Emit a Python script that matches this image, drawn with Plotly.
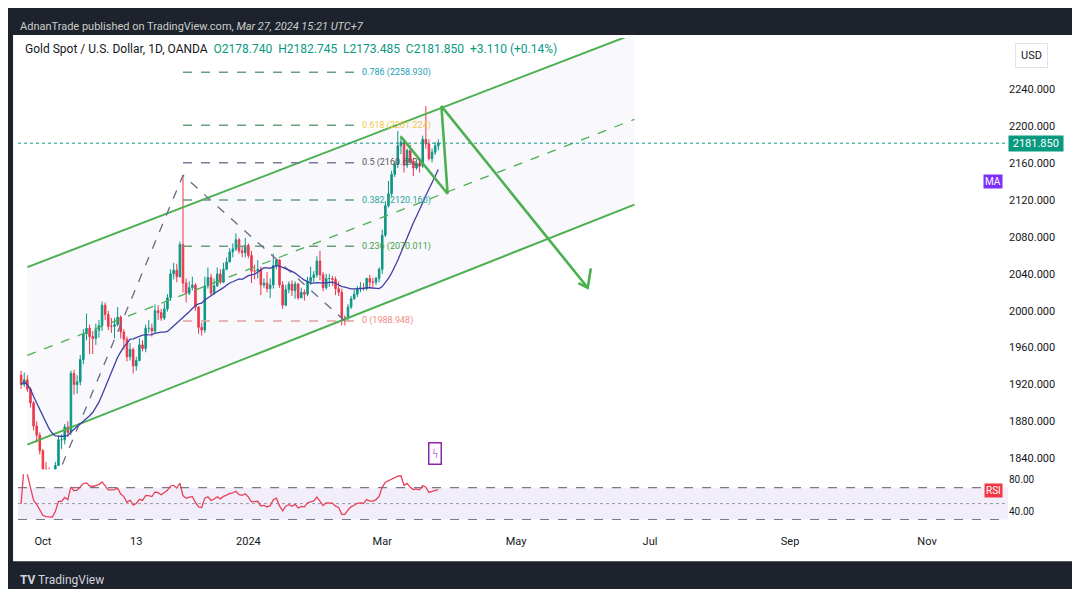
import pandas as pd
import plotly.graph_objects as go
from plotly.subplots import make_subplots

# daily bars, Sep 21 2023 .. Mar 27 2024 (weekdays)
dates = pd.bdate_range("2023-09-21", "2024-03-27")
closes = [1920, 1925,
          1915, 1900, 1875, 1865, 1848,
          1828, 1822, 1820, 1820, 1832,
          1860, 1860, 1874, 1868, 1932,
          1920, 1923, 1947, 1975, 1981,
          1972, 1970, 1979, 1984, 2006,
          1996, 1983, 1983, 1985, 1993,
          1977, 1969, 1950, 1958, 1940,
          1946, 1963, 1959, 1981, 1981,
          1978, 2000, 1998, 1992, 2002,
          2014, 2040, 2044, 2037, 2072,
          2030, 2019, 2025, 2028, 2004,
          1982, 1979, 2027, 2036, 2019,
          2027, 2040, 2031, 2045, 2053,
          2064, 2067, 2077, 2065, 2063,
          2071, 2060, 2043, 2043, 2045,
          2028, 2030, 2024, 2028, 2049,
          2055, 2028, 2006, 2023, 2029,
          2022, 2029, 2014, 2020, 2018,
          2032, 2036, 2039, 2054, 2039,
          2025, 2035, 2035, 2034, 2024,
          2020, 1992, 1992, 2004, 2013,
          2018, 2024, 2025, 2024, 2035,
          2031, 2031, 2035, 2045, 2082,
          2114, 2127, 2148, 2159, 2179,
          2183, 2158, 2174, 2162, 2155,
          2160, 2157, 2186, 2181, 2165,
          2172, 2179, 2182]
highs = [1935, 1933, 1930, 1917, 1902, 1880, 1868, 1850, 1836, 1830, 1825, 1836,
         1865, 1866, 1877, 1880, 1935, 1936, 1930, 1952, 1980, 1997, 1985, 1978, 1986, 1990, 2010,
         2009, 2000, 1992, 1992, 2004, 1995, 1980, 1972, 1965, 1960, 1950, 1970, 1968, 1985, 1990,
         1986, 2007, 2006, 2002, 2008, 2018, 2045, 2052, 2051, 2075, 2147, 2035, 2032, 2037, 2030,
         2005, 1987, 2037, 2047, 2040, 2035, 2047, 2045, 2052, 2058, 2068, 2073, 2084, 2079, 2070,
         2079, 2073, 2065, 2050, 2055, 2048, 2035, 2042, 2035, 2062, 2056, 2056, 2032, 2028, 2032,
         2033, 2032, 2030, 2025, 2023, 2037, 2048, 2043, 2059, 2065, 2042, 2040, 2040, 2038, 2037,
         2032, 2024, 1995, 2007, 2016, 2023, 2027, 2031, 2030, 2036, 2039, 2036, 2037, 2047, 2088,
         2119, 2141, 2152, 2162, 2195, 2190, 2185, 2176, 2180, 2166, 2163, 2162, 2190, 2222, 2186,
         2176, 2183, 2186]
lows = [1915, 1917, 1912, 1895, 1870, 1857, 1844, 1810, 1816, 1813, 1816, 1817,
        1834, 1850, 1855, 1863, 1865, 1909, 1910, 1919, 1942, 1968, 1953, 1953, 1963, 1971, 1978,
        1990, 1979, 1976, 1970, 1983, 1970, 1958, 1945, 1946, 1932, 1935, 1945, 1956, 1955, 1976,
        1972, 1975, 1990, 1989, 1990, 1999, 2011, 2034, 2031, 2036, 2020, 2009, 2017, 2022, 2000,
        1975, 1973, 1976, 2024, 2016, 2017, 2026, 2029, 2030, 2044, 2053, 2058, 2065, 2062, 2058,
        2058, 2057, 2030, 2034, 2035, 2017, 2025, 2020, 2014, 2024, 2045, 2025, 2002, 2005, 2019,
        2016, 2013, 2012, 2015, 2011, 2016, 2028, 2031, 2036, 2033, 2021, 2023, 2026, 2027, 2017,
        2016, 1984, 1984, 1989, 2002, 2012, 2015, 2020, 2022, 2022, 2024, 2026, 2028, 2031, 2040,
        2080, 2112, 2124, 2145, 2155, 2170, 2150, 2155, 2160, 2146, 2153, 2150, 2155, 2176, 2163,
        2161, 2169, 2174]
first_open = 1930
last_price = 2181.85

# fibonacci retracement
fib_levels = ["0", "0.236", "0.382", "0.5", "0.618", "0.786"]
fib_prices = [1988.948, 2070.011, 2120.160, 2160.692, 2201.224, 2258.930]
fib_colors = ["#f28b82", "#43a047", "#26a69a", "#555555", "#f2c94c", "#1ba0b8"]

# drawings (date, price)
channel_dates = ["2023-09-25", "2024-06-24"]
upper_ch = [2047.3, 2300.7]
lower_ch = [1854.7, 2115.1]
mid_ch = [1951.6, 2207.8]
zig_dates = ["2023-10-06", "2023-12-04", "2024-02-14"]
zig_prices = [1815, 2147, 1989]
path_dates = ["2024-03-11", "2024-04-01", "2024-03-28", "2024-06-03"]
path_prices = [2189, 2127, 2222, 2025]
head_dates = ["2024-05-29", "2024-06-03", "2024-06-04"]
head_prices = [2030, 2025, 2046]

x_ticks = ["2023-10-02", "2023-11-13", "2024-01-02", "2024-03-01", "2024-05-01",
           "2024-07-01", "2024-09-02", "2024-11-01"]
x_labels = ["Oct", "13", "2024", "Mar", "May", "Jul", "Sep", "Nov"]

close_s = pd.Series(closes, index=dates)
opens = [first_open] + closes[:-1]
ma = close_s.rolling(20, min_periods=1).mean()
delta = close_s.diff()
gain = delta.clip(lower=0).ewm(alpha=1 / 14, adjust=False).mean()
loss = (-delta.clip(upper=0)).ewm(alpha=1 / 14, adjust=False).mean()
rsi = 100 - 100 / (1 + gain / loss.replace(0, 1e-9))
rsi.iloc[0] = 50

fig = make_subplots(rows=2, cols=1, shared_xaxes=True, vertical_spacing=0.01,
                    row_heights=[0.88, 0.12])

green = "#4caf50"
x_start, x_end = "2023-09-20", "2024-12-09"
# channel fill
fig.add_trace(go.Scatter(x=channel_dates, y=lower_ch, mode="lines", line=dict(color=green, width=2),
                         hoverinfo="skip"), row=1, col=1)
fig.add_trace(go.Scatter(x=channel_dates, y=upper_ch, mode="lines", line=dict(color=green, width=2),
                         fill="tonexty", fillcolor="rgba(120,110,220,0.05)", hoverinfo="skip"), row=1, col=1)
fig.add_trace(go.Scatter(x=channel_dates, y=mid_ch, mode="lines",
                         line=dict(color=green, width=1.3, dash="dash")), row=1, col=1)

# fib lines
for lev, p, col in zip(fib_levels, fib_prices, fib_colors):
    lc = "#7a7a9a" if lev == "0.5" else ("#e0a0a0" if lev == "0" else "#6b9f7a")
    fig.add_trace(go.Scatter(x=["2023-12-04", "2024-02-20"], y=[p, p], mode="lines",
                             line=dict(color=lc, width=1.5, dash="dash")), row=1, col=1)
    fig.add_annotation(x="2024-02-21", y=p, text=f"{lev} ({p:.3f})", showarrow=False, xanchor="left",
                       font=dict(size=9, color=col, family="Roboto"), row=1, col=1)

# zigzag
fig.add_trace(go.Scatter(x=zig_dates, y=zig_prices, mode="lines",
                         line=dict(color="#6a6a80", width=1.3, dash="dash")), row=1, col=1)

# current price line
fig.add_trace(go.Scatter(x=[x_start, x_end], y=[last_price, last_price], mode="lines",
                         line=dict(color="#089981", width=1, dash="dot")), row=1, col=1)

fig.add_trace(go.Candlestick(x=dates, open=opens, high=highs, low=lows, close=closes,
                             increasing=dict(line=dict(color="#089981", width=1), fillcolor="#089981"),
                             decreasing=dict(line=dict(color="#f23645", width=1), fillcolor="#f23645"),
                             whiskerwidth=0), row=1, col=1)
fig.add_trace(go.Scatter(x=dates, y=ma, mode="lines", line=dict(color="#3f3fa8", width=1.3)), row=1, col=1)

# hand-drawn projection
fig.add_trace(go.Scatter(x=path_dates, y=path_prices, mode="lines",
                         line=dict(color=green, width=2.6)), row=1, col=1)
fig.add_trace(go.Scatter(x=head_dates, y=head_prices, mode="lines",
                         line=dict(color=green, width=2.6)), row=1, col=1)

# RSI pane
fig.add_trace(go.Scatter(x=[x_start, x_end], y=[30, 30], mode="lines",
                         line=dict(color="#787b86", width=1.2, dash="dash")), row=2, col=1)
fig.add_trace(go.Scatter(x=[x_start, x_end], y=[70, 70], mode="lines",
                         line=dict(color="#787b86", width=1.2, dash="dash"),
                         fill="tonexty", fillcolor="rgba(126,87,194,0.1)"), row=2, col=1)
fig.add_trace(go.Scatter(x=[x_start, x_end], y=[50, 50], mode="lines",
                         line=dict(color="#9598a1", width=1, dash="dot")), row=2, col=1)
fig.add_trace(go.Scatter(x=dates, y=rsi, mode="lines", line=dict(color="#e8405a", width=1.3)), row=2, col=1)

fig.update_layout(
    width=1080, height=589, showlegend=False, template="plotly_white",
    paper_bgcolor="#1e222d", plot_bgcolor="white",
    margin=dict(l=10, r=80, t=30, b=64),
    font=dict(family="Roboto", size=11, color="#131722"),
    xaxis_rangeslider_visible=False,
)
fig.add_shape(type="rect", xref="paper", yref="paper", x0=-0.005, x1=1.087, y0=-0.057, y1=1.006,
              fillcolor="white", line_width=0, layer="below")
rb = [dict(bounds=["sat", "mon"])]
fig.update_xaxes(range=[x_start, x_end], rangebreaks=rb, showgrid=False, zeroline=False)
fig.update_xaxes(tickvals=x_ticks, ticktext=x_labels, ticks="", row=2, col=1,
                 tickfont=dict(size=11, color="#131722"))
fig.update_yaxes(side="right", showgrid=False, zeroline=False)
fig.update_yaxes(range=[1828, 2296], tickvals=list(range(1840, 2241, 40)), tickformat=".3f",
                 row=1, col=1, tickfont=dict(size=11))
fig.update_yaxes(range=[13, 87], tickvals=[40, 80], tickformat=".2f", row=2, col=1,
                 tickfont=dict(size=10))

fig.add_annotation(xref="paper", yref="paper", x=0.0, y=1.04, xanchor="left", showarrow=False,
                   text="AdnanTrade published on TradingView.com, <i>Mar 27, 2024 15:21 UTC+7</i>",
                   font=dict(size=11, color="#c8d0c8"))
fig.add_annotation(xref="paper", yref="paper", x=0.005, y=0.995, xanchor="left", yanchor="top",
                   showarrow=False, font=dict(size=12, color="#131722"),
                   text="Gold Spot / U.S. Dollar, 1D, OANDA  <span style='color:#089981'>O2178.740  "
                        "H2182.745  L2173.485  C2181.850  +3.110 (+0.14%)</span>")
fig.add_annotation(xref="paper", yref="y", x=1.0, y=last_price, xanchor="left", showarrow=False,
                   text=" 2181.850 ", bgcolor="#089981", font=dict(size=11, color="white"))
fig.add_annotation(xref="paper", yref="paper", x=1.04, y=0.99, showarrow=False, text="USD",
                   bordercolor="#e0e3eb", borderwidth=1, borderpad=5, font=dict(size=11))
fig.add_annotation(xref="paper", yref="y", x=0.995, y=2140, xanchor="right", showarrow=False,
                   text="MA", bgcolor="#7b2ff7", font=dict(size=10, color="white"))
fig.add_annotation(xref="paper", yref="y2", x=0.995, y=67, xanchor="right", showarrow=False,
                   text="RSI", bgcolor="#f23645", font=dict(size=10, color="white"))
fig.add_annotation(x="2024-03-26", y=1845, showarrow=False, text="ϟ", bordercolor="#8e24aa",
                   borderwidth=1.5, borderpad=3, font=dict(size=12, color="#8e24aa"), row=1, col=1)
fig.add_annotation(xref="paper", yref="paper", x=0.0, y=-0.095, xanchor="left", yanchor="middle",
                   showarrow=False, text="<b>TV</b> TradingView", font=dict(size=12, color="#d1d4dc"))

fig.write_html("out.html")
